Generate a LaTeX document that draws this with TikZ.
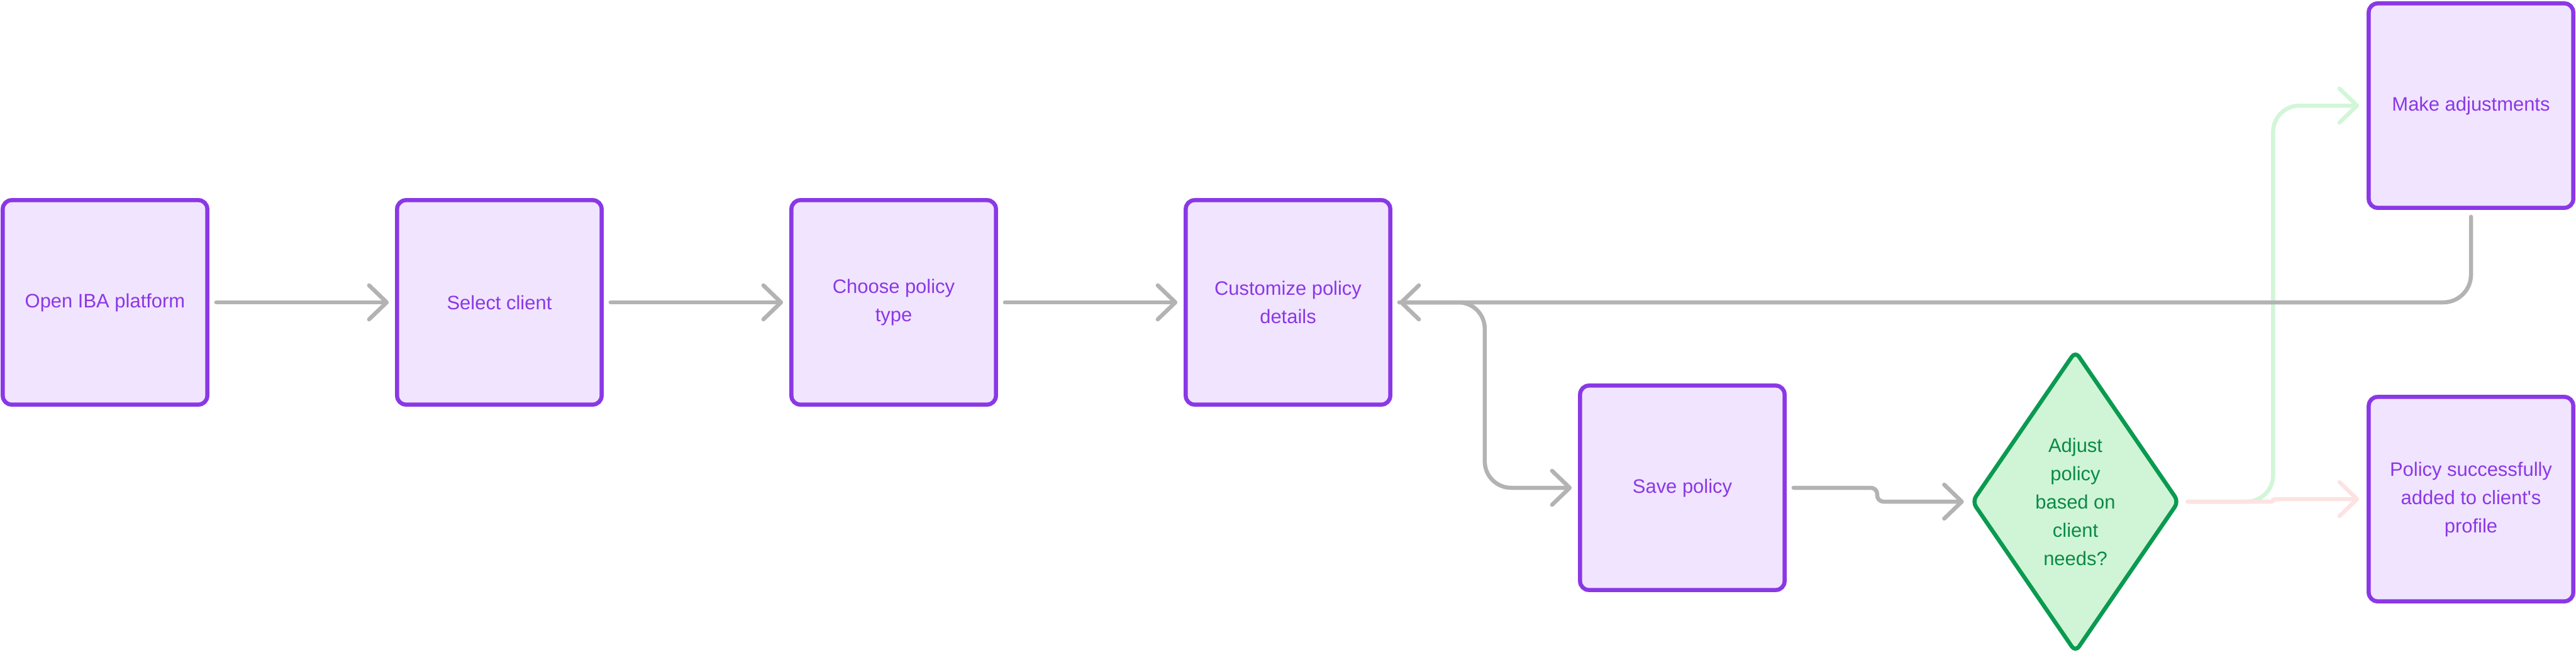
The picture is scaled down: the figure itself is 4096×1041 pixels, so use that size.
\documentclass[tikz,border=0pt]{standalone}
\usepackage{fontspec}
\setmainfont{Liberation Sans}
\font\lsplain="Liberation Sans" at 8.8pt
\usetikzlibrary{arrows.meta,shapes.geometric}
\definecolor{boxborder}{HTML}{8A38E6}
\definecolor{boxfill}{HTML}{F1E4FF}
\definecolor{boxtext}{HTML}{8A38E6}
\definecolor{decborder}{HTML}{0A9A50}
\definecolor{decfill}{HTML}{D0F5D6}
\definecolor{dectext}{HTML}{0A8A47}
\definecolor{conngray}{HTML}{B3B3B3}
\definecolor{conngreen}{HTML}{D1F6D8}
\definecolor{connpink}{HTML}{FCE3E1}
\begin{document}
\begin{tikzpicture}[x=0.01cm,y=-0.01cm,
  stepbox/.style={draw=boxborder, fill=boxfill, text=boxtext, line width=0.065cm,
    rounded corners=0.14cm, minimum width=3.25cm, minimum height=3.25cm,
    inner sep=0pt, align=center, font=\fontsize{8.8pt}{12.8pt}\selectfont},
  decision/.style={diamond, draw=decborder, fill=decfill, text=dectext, line width=0.065cm,
    rounded corners=0.1cm, minimum width=3.30cm, minimum height=4.80cm,
    inner sep=0pt, align=center, font=\fontsize{8.8pt}{12.8pt}\selectfont},
  conn/.style={line width=0.065cm, line cap=round, line join=round,
    -{Straight Barb[length=0.28cm,width=0.54cm,line cap=round,line join=round]}}
]
\useasboundingbox (0,0) rectangle (4096,1041);

% nodes
\node[stepbox] (b1) at (167,481) {Open IBA platform};
\node[stepbox] (b2) at (794,481) {Select client};
\node[stepbox] (b3) at (1421,481) {Choose policy\\type};
\node[stepbox] (b4) at (2048,481) {Customize policy\\details};
\node[stepbox] (b5) at (2675,776) {Save policy};
\node[decision] (dec) at (3300,798) {Adjust\\policy\\based on\\client\\needs?};
\node[stepbox] (b6) at (3929,168) {Make adjustments};
\node[stepbox] (b7) at (3929,794) {Policy successfully\\added to client{\lsplain'}s\\profile};

% straight connectors
\draw[conn, conngray, shorten <=0.11cm, shorten >=0.10cm] (b1.east) -- (b2.west);
\draw[conn, conngray, shorten <=0.11cm, shorten >=0.10cm] (b2.east) -- (b3.west);
\draw[conn, conngray, shorten <=0.11cm, shorten >=0.10cm] (b3.east) -- (b4.west);

% customize -> save
\draw[conn, conngray, rounded corners=0.42cm, shorten <=0.11cm, shorten >=0.10cm]
  (b4.east) -- ++(147,0) |- (b5.west);

% decision branches (drawn beneath the grey feedback line)
\draw[conn, conngreen, rounded corners=0.42cm, shorten <=0.10cm, shorten >=0.12cm]
  (dec.east) -- ++(146,0) |- (b6.west);
\draw[conn, connpink, rounded corners=0.03cm, shorten <=0.10cm, shorten >=0.12cm]
  (dec.east) -- ++(146,0) |- (b7.west);

% make adjustments -> customize
\draw[conn, conngray, rounded corners=0.44cm, shorten <=0.11cm, shorten >=0.11cm]
  (b6.south) |- (b4.east);

% save -> decision
\draw[conn, conngray, rounded corners=0.1cm, shorten <=0.11cm, shorten >=0.09cm]
  (b5.east) -- ++(144,0) |- (dec.west);
\end{tikzpicture}
\end{document}
